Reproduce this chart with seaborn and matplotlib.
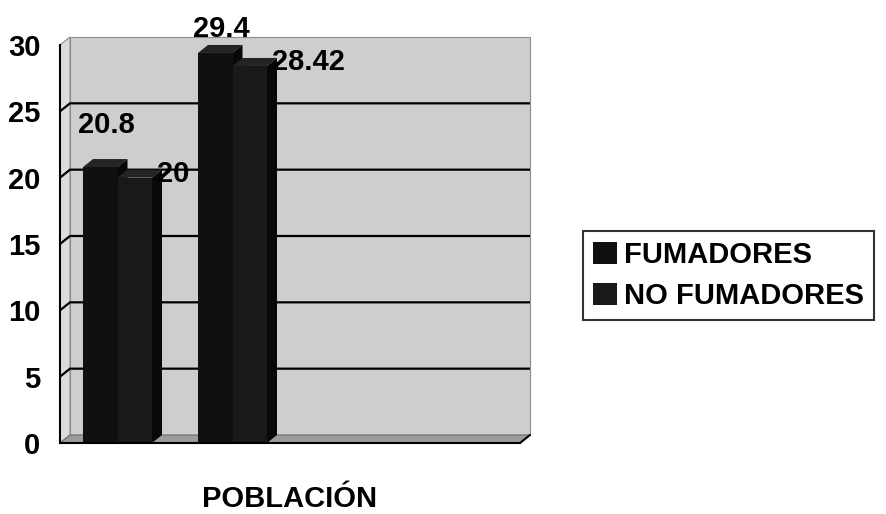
import numpy as np
import pandas as pd
import matplotlib
matplotlib.use("Agg")
import matplotlib.pyplot as plt
import seaborn as sns
from matplotlib.patches import Polygon

# ---- data -------------------------------------------------------------
groups = ["G1", "G2"]
slots = ["G1", "G2", "G3", "G4"]          # category slots on the x axis
series = ["FUMADORES", "NO FUMADORES"]
fumadores = [20.8, 29.4]
no_fumadores = [20, 28.42]
y_ticks = [0, 5, 10, 15, 20, 25, 30]
x_title = "POBLACIÓN"

df = pd.DataFrame({
    "grupo": groups * 2,
    "serie": [series[0]] * len(groups) + [series[1]] * len(groups),
    "valor": fumadores + no_fumadores,
})

# ---- style ------------------------------------------------------------
sns.set_style("white")
plt.rcParams["font.family"] = ["Liberation Sans", "DejaVu Sans"]
plt.rcParams["font.weight"] = "bold"
plt.rcParams["text.color"] = "black"
plt.rcParams["xtick.color"] = "black"
plt.rcParams["ytick.color"] = "black"
plt.rcParams["axes.labelcolor"] = "black"
FS = 21
bar_colors = ["#101010", "#191919"]

W, H, DPI = 886, 514, 100
fig = plt.figure(figsize=(W / DPI, H / DPI), dpi=DPI)
fig.patch.set_facecolor("white")
ax = fig.add_axes([60 / W, 71 / H, 460 / W, 398 / H])
ax.set_facecolor("none")

sns.barplot(data=df, x="grupo", y="valor", hue="serie", order=slots,
            hue_order=series, palette=bar_colors, saturation=1,
            width=0.6, edgecolor="none", ax=ax, zorder=3)

ax.set_xlim(-0.5, len(slots) - 0.5)
ax.set_ylim(y_ticks[0], y_ticks[-1])
x0, x1 = ax.get_xlim()
y0, y1 = ax.get_ylim()

# depth of the pseudo-3D box, in pixels, converted to data units
DX, DY = 10, 8
px_x = ax.transData.transform((1, 0))[0] - ax.transData.transform((0, 0))[0]
px_y = ax.transData.transform((0, 1))[1] - ax.transData.transform((0, 0))[1]
ddx, ddy = DX / px_x, DY / px_y

# back wall, side wall and floor
ax.add_patch(Polygon([(x0 + ddx, y0 + ddy), (x1 + ddx, y0 + ddy),
                      (x1 + ddx, y1 + ddy), (x0 + ddx, y1 + ddy)],
                     closed=True, facecolor="#cecece", edgecolor="#8c8c8c",
                     lw=0.8, clip_on=False, zorder=0.5))
ax.add_patch(Polygon([(x0, y0), (x0 + ddx, y0 + ddy), (x0 + ddx, y1 + ddy),
                      (x0, y1)], closed=True, facecolor="#dcdcdc",
                     edgecolor="#8c8c8c", lw=0.8, clip_on=False, zorder=0.6))
ax.add_patch(Polygon([(x0, y0), (x1, y0), (x1 + ddx, y0 + ddy),
                      (x0 + ddx, y0 + ddy)], closed=True, facecolor="#9c9c9c",
                     edgecolor="#6a6a6a", lw=0.8, clip_on=False, zorder=1))

# gridlines on the walls
for t in y_ticks[1:-1]:
    ax.plot([x0, x0 + ddx, x1 + ddx], [t, t + ddy, t + ddy], color="black",
            lw=1.6, clip_on=False, zorder=0.8, solid_capstyle="butt")

# extrude the bars: top and side faces
bars = [p for p in ax.patches
        if hasattr(p, "get_height") and np.isfinite(p.get_height())
        and p.get_height() > 0 and p.get_zorder() == 3]
for p in bars:
    bx, bw, bh = p.get_x(), p.get_width(), p.get_height()
    ax.add_patch(Polygon([(bx, bh), (bx + bw, bh), (bx + bw + ddx, bh + ddy),
                          (bx + ddx, bh + ddy)], closed=True,
                         facecolor="#242424", edgecolor="none", zorder=2.9,
                         clip_on=False))
    ax.add_patch(Polygon([(bx + bw, 0), (bx + bw, bh), (bx + bw + ddx, bh + ddy),
                          (bx + bw + ddx, ddy)], closed=True,
                         facecolor="#080808", edgecolor="none", zorder=2.9,
                         clip_on=False))

# value labels
top_limit = H - 17 - 20   # keep labels inside the chart area
for p in bars:
    bx, bw, bh = p.get_x(), p.get_width(), p.get_height()
    txt = f"{bh:g}"
    if p.get_facecolor()[:3] == matplotlib.colors.to_rgb(bar_colors[0]):
        cx = bx + bw / 2
        ytop = ax.transData.transform((cx, bh))[1]
        off = min(34, top_limit - ytop)
        ax.annotate(txt, (cx, bh), xytext=(6, off), textcoords="offset pixels",
                    ha="center", va="baseline", fontsize=FS,
                    fontweight="bold", color="black", zorder=6,
                    annotation_clip=False)
    else:
        ax.annotate(txt, (bx + bw, bh), xytext=(5, 4),
                    textcoords="offset pixels", ha="left", va="center",
                    fontsize=FS, fontweight="bold", color="black", zorder=6,
                    annotation_clip=False)

# axes, ticks
for s in ["top", "right"]:
    ax.spines[s].set_visible(False)
for s in ["left", "bottom"]:
    ax.spines[s].set_color("black")
    ax.spines[s].set_linewidth(1.5)
    ax.spines[s].set_zorder(4)
ax.set_yticks(y_ticks)
ax.set_yticklabels([f"{t:g}" for t in y_ticks], fontsize=FS, fontweight="bold",
                   color="black")
ax.set_xticks(np.arange(x0, x1 + 0.01, 1.0))
ax.set_xticklabels([])
ax.tick_params(axis="y", direction="out", length=7, width=1.5, pad=7,
               colors="black", labelcolor="black")
ax.tick_params(axis="x", direction="out", length=8, width=1.5, colors="black")
ax.plot([x1, x1 + ddx], [y0, y0 + ddy], color="black", lw=1.5,
        clip_on=False, zorder=4)
ax.set_xlabel("")
ax.set_ylabel("")
ax.grid(False)

fig.text(290 / W, 1 - 499 / H, x_title, ha="center", va="center",
         fontsize=FS, fontweight="bold", color="black")

# legend
handles, labels = ax.get_legend_handles_labels()
old = ax.get_legend()
if old is not None:
    old.remove()
leg = fig.legend(handles, labels, loc="center left",
                 bbox_to_anchor=(583 / W, 1 - 275.5 / H),
                 bbox_transform=fig.transFigure, frameon=True, fancybox=False,
                 edgecolor="black", prop={"size": FS, "weight": "bold"},
                 handlelength=0.8, handleheight=0.8, handletextpad=0.25,
                 borderpad=0.35, labelspacing=0.45, borderaxespad=0)
leg.get_frame().set_linewidth(1.5)
for t in leg.get_texts():
    t.set_color("black")

fig.savefig("out.png", dpi=DPI, facecolor="white")
